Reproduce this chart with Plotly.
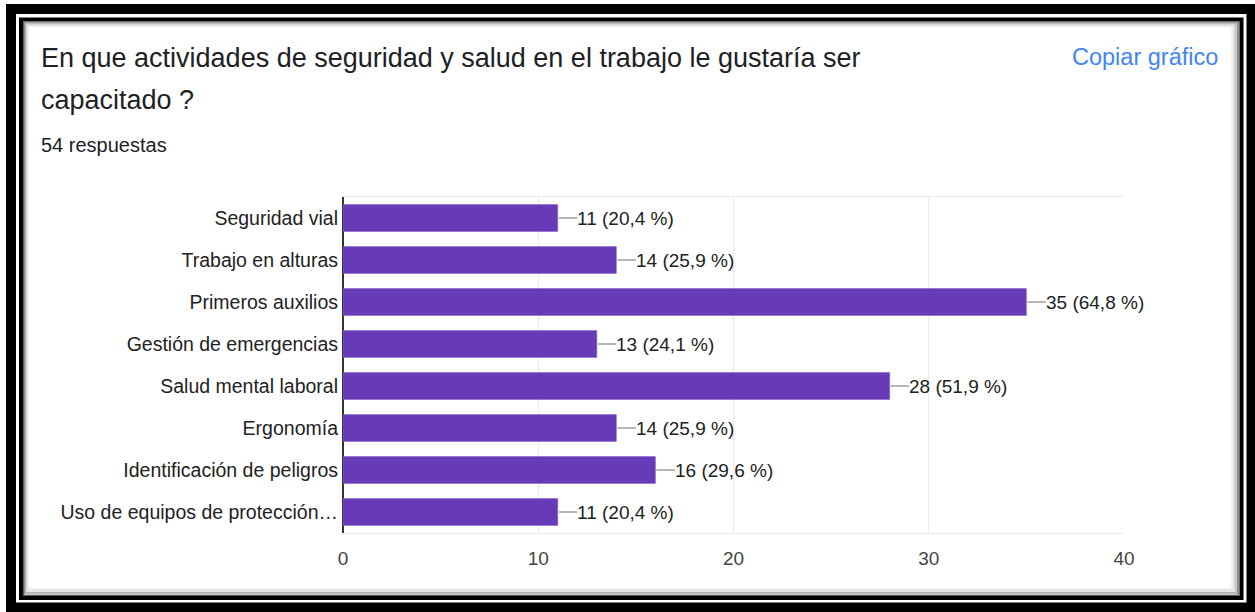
import plotly.graph_objects as go

categories = [
    "Seguridad vial",
    "Trabajo en alturas",
    "Primeros auxilios",
    "Gestión de emergencias",
    "Salud mental laboral",
    "Ergonomía",
    "Identificación de peligros",
    "Uso de equipos de protección…",
]
values = [11, 14, 35, 13, 28, 14, 16, 11]
total_responses = 54
x_ticks = [0, 10, 20, 30, 40]

title_line1 = "En que actividades de seguridad y salud en el trabajo le gustaría ser"
title_line2 = "capacitado ?"
subtitle = "54 respuestas"
copy_text = "Copiar gráfico"

W, H = 1255, 612
L, R, T, B = 343, 1124, 197, 533
FONT = "Arial, Liberation Sans, sans-serif"


def px(x):
    return (x - L) / (R - L)


def py(y):
    return (B - y) / (B - T)


labels = [f"{v} ({v / total_responses * 100:.1f} %)".replace(".", ",") for v in values]

fig = go.Figure()
fig.add_trace(go.Bar(
    x=values, y=categories, orientation="h",
    marker=dict(color="#673ab7", line=dict(color="#8a66cc", width=0.6)),
    hoverinfo="skip",
))

# leader lines
lx, ly = [], []
for c, v in zip(categories, values):
    lx += [v + 0.05, v + 1.0, None]
    ly += [c, c, None]
fig.add_trace(go.Scatter(x=lx, y=ly, mode="lines",
                         line=dict(color="#9e9e9e", width=1.5), hoverinfo="skip"))

annotations = []
for c, v, t in zip(categories, values, labels):
    annotations.append(dict(x=v + 1.0, y=c, xref="x", yref="y", text=t, xshift=-2,
                            showarrow=False, xanchor="left", yanchor="middle",
                            font=dict(family=FONT, size=19, color="#222222")))

annotations += [
    dict(x=px(39), y=py(58), xref="paper", yref="paper", text=title_line1,
         showarrow=False, xanchor="left", yanchor="middle",
         font=dict(family=FONT, size=27, color="#202124")),
    dict(x=px(39), y=py(100), xref="paper", yref="paper", text=title_line2,
         showarrow=False, xanchor="left", yanchor="middle",
         font=dict(family=FONT, size=27, color="#202124")),
    dict(x=px(39), y=py(145), xref="paper", yref="paper", text=subtitle,
         showarrow=False, xanchor="left", yanchor="middle",
         font=dict(family=FONT, size=20, color="#202124")),
    dict(x=px(1220), y=py(57), xref="paper", yref="paper", text=copy_text,
         showarrow=False, xanchor="right", yanchor="middle",
         font=dict(family=FONT, size=23.5, color="#4285f4")),
]

shapes = []


def rect(x0, y0, x1, y1, color, width):
    shapes.append(dict(type="rect", xref="paper", yref="paper",
                       x0=px(x0), x1=px(x1), y0=py(y0), y1=py(y1),
                       line=dict(color=color, width=width), fillcolor="rgba(0,0,0,0)",
                       layer="above"))


# outer thick black frame
rect(11, 9, 1251.5, 607.5, "#000000", 10)
# inner thin black frame
rect(21, 19.5, 1241.5, 598, "#000000", 4)
# soft shadow inside
shades = ["#5a5a5a", "#8a8a8a", "#b0b0b0", "#cfcfcf", "#e4e4e4", "#f2f2f2"]
for i, col in enumerate(shades):
    rect(23.5 + i, 22 + i, 1239 - 1.5 * i, 595.5 - 1.5 * i, col, 1.2)

fig.update_layout(
    width=W, height=H,
    margin=dict(l=L, r=W - R, t=T, b=H - B, autoexpand=False),
    paper_bgcolor="white", plot_bgcolor="white",
    showlegend=False, bargap=0.36,
    font=dict(family=FONT, size=19, color="#222222"),
    xaxis=dict(range=[0, 40], tickvals=x_ticks, showgrid=True, gridcolor="#ebebeb",
               gridwidth=1, zeroline=True, zerolinecolor="#333333", zerolinewidth=1.5,
               showline=True, linecolor="#ebebeb", linewidth=1, mirror=True,
               ticks="", ticklabelstandoff=8,
               tickfont=dict(family=FONT, size=19, color="#444444"), fixedrange=True),
    yaxis=dict(categoryorder="array", categoryarray=categories, autorange="reversed",
               ticks="", ticklabelstandoff=4, showgrid=False,
               tickfont=dict(family=FONT, size=19.5, color="#222222"), fixedrange=True),
    annotations=annotations, shapes=shapes,
)

fig.write_html("out.html", config={"displayModeBar": False},
               post_script="document.body.style.margin='0px';")
